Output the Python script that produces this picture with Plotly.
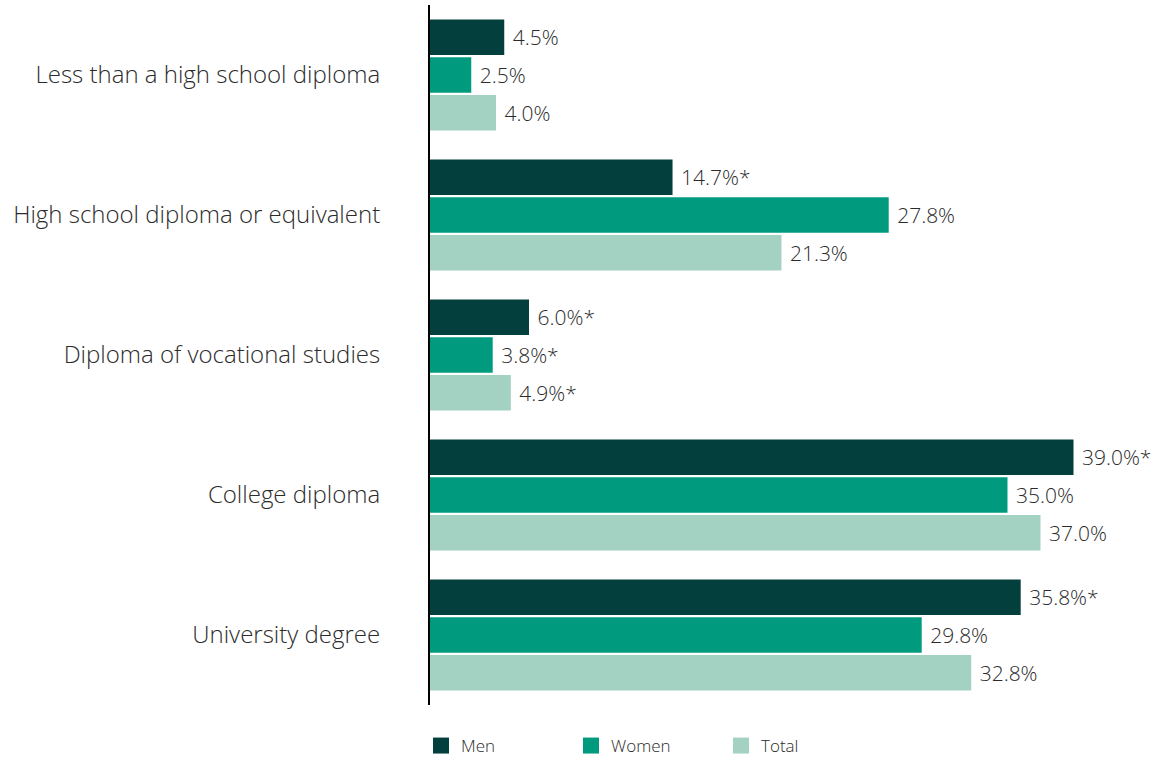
import plotly.graph_objects as go

categories = ["Less than a high school diploma", "High school diploma or equivalent",
              "Diploma of vocational studies", "College diploma", "University degree"]
men = [4.5, 14.7, 6.0, 39.0, 35.8]
women = [2.5, 27.8, 3.8, 35.0, 29.8]
total = [4.0, 21.3, 4.9, 37.0, 32.8]
men_sig = [False, True, True, True, True]
women_sig = [False, False, True, False, False]
total_sig = [False, False, True, False, False]

series = [("Men", men, men_sig, "#03403D"),
          ("Women", women, women_sig, "#009B7E"),
          ("Total", total, total_sig, "#A3D2C3")]

FONT = "Open Sans"
TXT = "#2b2b2b"
fig = go.Figure()
for name, vals, sig, col in series:
    labels = [" %.1f%%%s" % (v, "*" if s else "") for v, s in zip(vals, sig)]
    fig.add_trace(go.Bar(
        y=categories, x=vals, name=name, orientation="h",
        marker=dict(color=col, line=dict(width=0)),
        text=labels, textposition="outside", cliponaxis=False,
        textfont=dict(size=21, color=TXT, family=FONT, weight=300),
        hoverinfo="skip", showlegend=False,
    ))
for name, vals, sig, col in series:
    fig.add_trace(go.Scatter(
        x=[None], y=[None], mode="markers", name=name,
        marker=dict(symbol="square", size=18, color=col),
        showlegend=True, hoverinfo="skip",
    ))

fig.update_layout(
    width=1170, height=759,
    margin=dict(l=430, r=14, t=5, b=54, autoexpand=False),
    barmode="group", bargap=0.19, bargroupgap=0.06,
    plot_bgcolor="white", paper_bgcolor="white",
    font=dict(family=FONT, color=TXT),
    xaxis=dict(range=[0, 44], visible=False, showgrid=False, zeroline=False, automargin=False),
    yaxis=dict(autorange="reversed", showline=True, linecolor="black", linewidth=2,
               ticks="", showgrid=False, ticklabelstandoff=43, automargin=False,
               tickfont=dict(size=24, color=TXT, family=FONT, weight=300)),
    legend=dict(orientation="h", x=-9/726, xanchor="left", xref="paper",
                y=13/759, yref="container", yanchor="middle",
                entrywidth=105, entrywidthmode="pixels", itemwidth=30,
                font=dict(size=17, color=TXT, family=FONT, weight=300)),
)

fig.write_html("out.html", config={"displayModeBar": False},
               post_script="document.body.style.margin='0px';")
